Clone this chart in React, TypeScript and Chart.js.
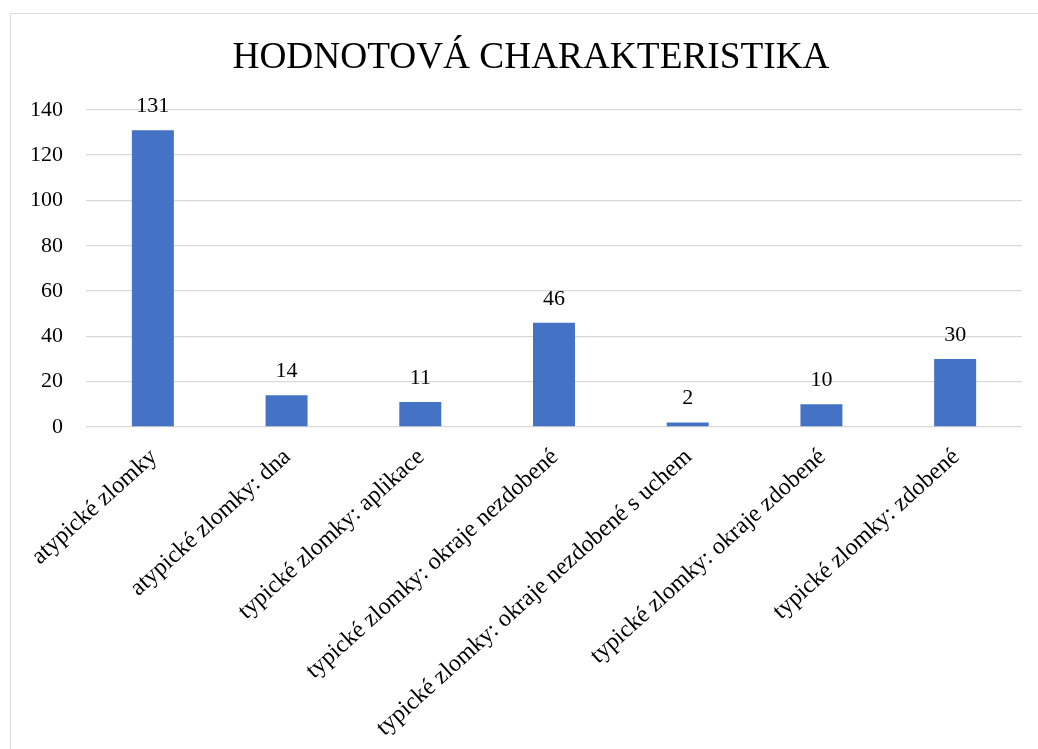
import React, { useEffect, useRef } from "react";
import { Chart, registerables } from "chart.js";

Chart.register(...registerables);

const TITLE = "HODNOTOVÁ CHARAKTERISTIKA";
const categories = [
  "atypické zlomky",
  "atypické zlomky: dna",
  "typické zlomky: aplikace",
  "typické zlomky: okraje nezdobené",
  "typické zlomky: okraje nezdobené s uchem",
  "typické zlomky: okraje zdobené",
  "typické zlomky: zdobené",
];
const values = [131, 14, 11, 46, 2, 10, 30];
const yTicks = { min: 0, max: 140, step: 20 };

const FONT = "'Liberation Serif', 'Times New Roman', serif";
const CANVAS_W = 1062;

const dataLabelPlugin = {
  id: "dataLabels",
  afterDatasetsDraw(chart: any) {
    const ctx = chart.ctx;
    const meta = chart.getDatasetMeta(0);
    ctx.save();
    ctx.font = `22px ${FONT}`;
    ctx.fillStyle = "#000000";
    ctx.textAlign = "center";
    ctx.textBaseline = "alphabetic";
    meta.data.forEach((bar: any, i: number) => {
      ctx.fillText(String(values[i]), bar.x, bar.y - 18);
    });
    ctx.restore();
  },
};

export default function App() {
  const ref = useRef<HTMLCanvasElement | null>(null);

  useEffect(() => {
    if (!ref.current) return;
    const chart = new Chart(ref.current, {
      type: "bar",
      data: {
        labels: categories,
        datasets: [
          {
            data: values,
            backgroundColor: "#4472C4",
            borderWidth: 0,
            categoryPercentage: 1,
            barPercentage: 0.314,
          },
        ],
      },
      options: {
        animation: false,
        responsive: false,
        maintainAspectRatio: false,
        layout: { padding: { left: 0, right: 0, top: 0, bottom: 0 } },
        plugins: {
          legend: { display: false },
          tooltip: { enabled: false },
          title: {
            display: true,
            text: TITLE,
            color: "#000000",
            font: { family: FONT, size: 37.3, weight: "normal", lineHeight: 1.2 },
            padding: { top: 36, bottom: 29 },
          },
        },
        scales: {
          x: {
            grid: { display: false, drawTicks: false },
            border: { display: false },
            ticks: {
              autoSkip: false,
              minRotation: 42,
              maxRotation: 42,
              padding: 16,
              labelOffset: 1,
              color: "#000000",
              font: { family: FONT, size: 24 },
            },
            afterFit: (s: any) => {
              s.height = 322;
            },
          },
          y: {
            min: yTicks.min,
            max: yTicks.max,
            ticks: {
              stepSize: yTicks.step,
              padding: 23,
              color: "#000000",
              font: { family: FONT, size: 22 },
            },
            grid: { color: "#d9d9d9", lineWidth: 1.3, drawTicks: false },
            border: { display: false },
            afterFit: (s: any) => {
              s.width = 86;
            },
          },
          yRight: {
            position: "right",
            display: true,
            grid: { display: false, drawTicks: false },
            border: { display: false },
            ticks: { display: false },
            afterFit: (s: any) => {
              s.width = CANVAS_W - 1022;
            },
          },
        },
      },
      plugins: [dataLabelPlugin],
    });
    return () => chart.destroy();
  }, []);

  return (
    <div
      style={{
        position: "absolute",
        left: 0,
        top: 0,
        width: 1038,
        height: 749,
        overflow: "hidden",
        background: "#ffffff",
      }}
    >
      <div
        style={{
          position: "absolute",
          left: 10,
          top: 13,
          width: 1040,
          height: 760,
          border: "1.5px solid #d9d9d9",
        }}
      />
      <canvas
        ref={ref}
        width={CANVAS_W}
        height={749}
        style={{ position: "absolute", left: 0, top: 0, width: CANVAS_W, height: 749 }}
      />
    </div>
  );
}
